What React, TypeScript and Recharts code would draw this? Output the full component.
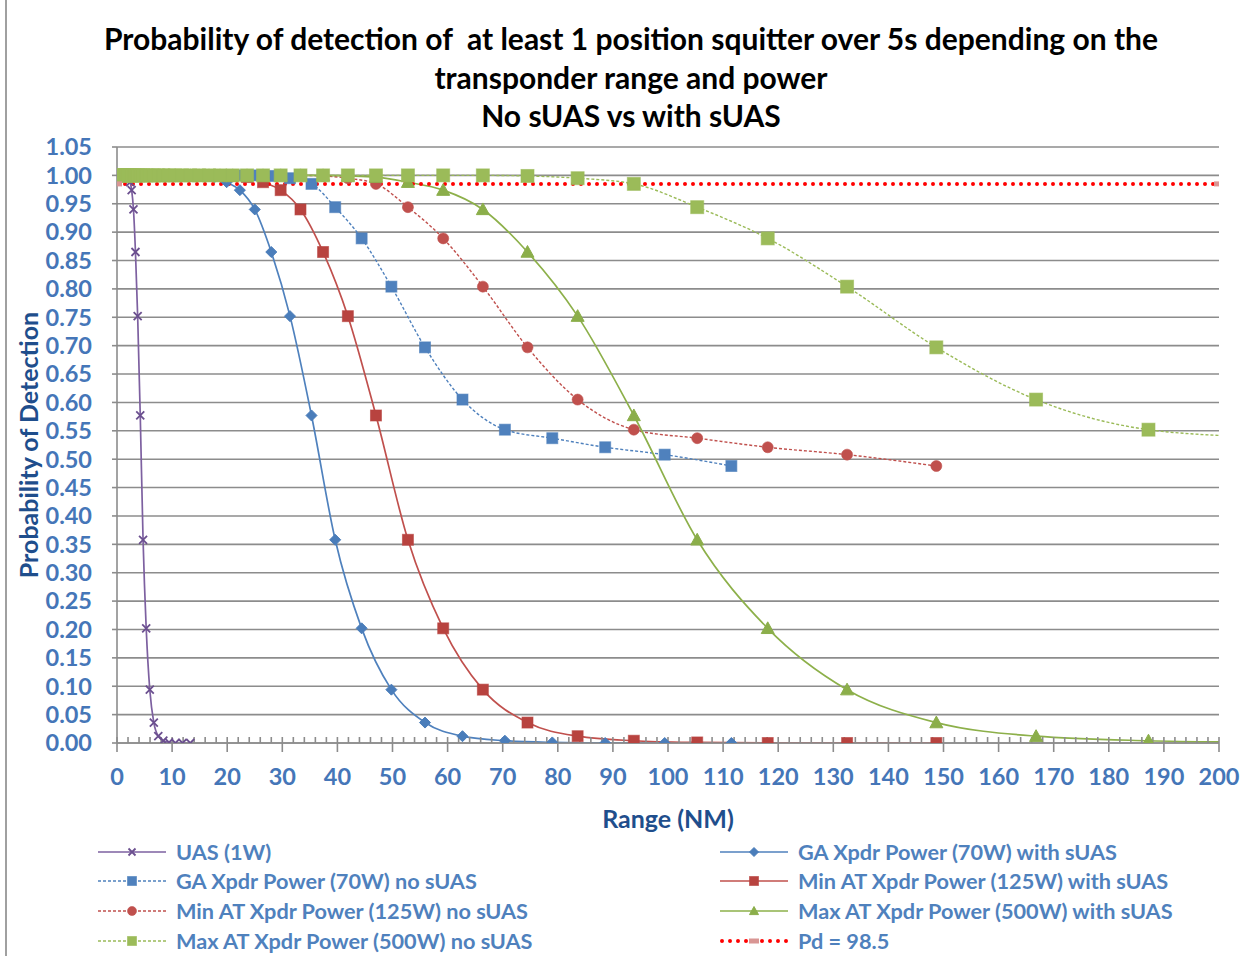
import React from 'react';
import { LineChart, Line, XAxis, YAxis, CartesianGrid } from 'recharts';

// x ticks (range, NM) and y ticks (probability)
const X_TICKS = [0, 10, 20, 30, 40, 50, 60, 70, 80, 90, 100, 110, 120, 130, 140, 150, 160, 170, 180, 190, 200];
const MINOR_TICKS = Array.from({ length: 101 }, (_, i) => i * 2);
const Y_TICKS = [0, 0.05, 0.1, 0.15, 0.2, 0.25, 0.3, 0.35, 0.4, 0.45, 0.5, 0.55, 0.6, 0.65, 0.7, 0.75, 0.8, 0.85, 0.9, 0.95, 1.0, 1.05];

// UAS (1W)
const uasRange = [0.54, 0.6, 0.67, 0.75, 0.85, 0.94, 1.06, 1.19, 1.34, 1.51, 1.68, 1.89, 2.11, 2.38, 2.66, 2.99, 3.35, 3.75, 4.22, 4.73, 5.3, 5.95, 6.68, 7.49, 8.41, 9.44, 10.6, 11.9, 13.3];
const uasPd = [1, 1, 1, 1, 1, 1, 1, 1, 1, 1, 1, 0.999, 0.997, 0.988, 0.974, 0.94, 0.865, 0.752, 0.577, 0.358, 0.202, 0.094, 0.036, 0.012, 0.004, 0.001, 0, 0, 0];

// GA transponder (70W)
const gaRange = [4.5, 5.0, 5.6, 6.3, 7.1, 7.9, 8.9, 10.0, 11.2, 12.6, 14.1, 15.8, 17.7, 19.9, 22.3, 25.0, 28.0, 31.4, 35.3, 39.6, 44.4, 49.8, 55.9, 62.7, 70.4, 79.0, 88.6, 99.4, 111.5];
const gaWithSuas = [1, 1, 1, 1, 1, 1, 1, 1, 1, 1, 1, 0.999, 0.997, 0.988, 0.974, 0.94, 0.865, 0.752, 0.577, 0.358, 0.202, 0.094, 0.036, 0.012, 0.004, 0.001, 0, 0, 0];
const gaNoSuas = [1, 1, 1, 1, 1, 1, 1, 1, 1, 1, 1, 1, 1, 1, 1, 1, 0.999, 0.995, 0.985, 0.944, 0.889, 0.804, 0.697, 0.605, 0.552, 0.537, 0.521, 0.508, 0.488];

// Min AT transponder (125W)
const minAtRange = [5.9, 6.7, 7.5, 8.4, 9.4, 10.5, 11.8, 13.3, 14.9, 16.7, 18.7, 21.0, 23.6, 26.5, 29.7, 33.3, 37.4, 41.9, 47.0, 52.8, 59.2, 66.4, 74.5, 83.6, 93.8, 105.3, 118.1, 132.5, 148.7];
const minAtWithSuas = [1, 1, 1, 1, 1, 1, 1, 1, 1, 1, 1, 0.999, 0.997, 0.988, 0.974, 0.94, 0.865, 0.752, 0.577, 0.358, 0.202, 0.094, 0.036, 0.012, 0.004, 0.001, 0, 0, 0];
const minAtNoSuas = [1, 1, 1, 1, 1, 1, 1, 1, 1, 1, 1, 1, 1, 1, 1, 1, 0.999, 0.995, 0.985, 0.944, 0.889, 0.804, 0.697, 0.605, 0.552, 0.537, 0.521, 0.508, 0.488];

// Max AT transponder (500W)
const maxAtRange = [0.8, 0.9, 1.1, 1.2, 1.3, 1.5, 1.7, 1.9, 2.1, 2.4, 2.7, 3.0, 3.3, 3.8, 4.2, 4.7, 5.3, 5.9, 6.7, 7.5, 8.4, 9.4, 10.5, 11.8, 13.3, 14.9, 16.7, 18.7, 21.0, 23.6, 26.5, 29.7, 33.3, 37.4, 41.9, 47.0, 52.8, 59.2, 66.4, 74.5, 83.6, 93.8, 105.3, 118.1, 132.5, 148.7, 166.8, 187.2, 210.0, 235.6];
const maxAtWithSuas = [1, 1, 1, 1, 1, 1, 1, 1, 1, 1, 1, 1, 1, 1, 1, 1, 1, 1, 1, 1, 1, 1, 1, 1, 1, 1, 1, 1, 1, 1, 1, 1, 1, 1, 0.999, 0.997, 0.988, 0.974, 0.94, 0.865, 0.752, 0.577, 0.358, 0.202, 0.094, 0.036, 0.012, 0.004, 0.001, 0];
const maxAtNoSuas = [1, 1, 1, 1, 1, 1, 1, 1, 1, 1, 1, 1, 1, 1, 1, 1, 1, 1, 1, 1, 1, 1, 1, 1, 1, 1, 1, 1, 1, 1, 1, 1, 1, 1, 1, 1, 1, 1, 1, 0.999, 0.995, 0.985, 0.944, 0.889, 0.804, 0.697, 0.605, 0.552, 0.537, 0.521];

// Pd = 98.5 threshold
const pdRange = [0, 200];
const pdLevel = [0.985, 0.985];

const FONT = 'Lato, "Open Sans", sans-serif';
const TICK_BLUE = '#4576b8';
const TITLE_BLUE = '#1f4e8c';
const GRID = '#8c8c8c';

const PURPLE = '#7d60a0';
const BLUE = '#4f81bd';
const RED = '#c0504d';
const GREEN = '#9bbb59';

const pairs = (xs: number[], ys: number[]) => xs.map((x, i) => ({ x, y: ys[i] }));

type Shape = 'cross' | 'diamond' | 'square' | 'circle' | 'triangle' | 'dash';

const Marker = ({ shape, cx, cy, size, color }: { shape: Shape; cx: number; cy: number; size: number; color: string }) => {
  const h = size / 2;
  if (shape === 'cross')
    return (
      <path d={`M${cx - h},${cy - h}L${cx + h},${cy + h}M${cx - h},${cy + h}L${cx + h},${cy - h}`} stroke={color} strokeWidth={1.8} fill="none" />
    );
  if (shape === 'diamond')
    return <path d={`M${cx},${cy - h}L${cx + h},${cy}L${cx},${cy + h}L${cx - h},${cy}Z`} fill={color} stroke={color} strokeWidth={1} />;
  if (shape === 'square')
    return <rect x={cx - h} y={cy - h} width={size} height={size} fill={color} stroke={color} strokeOpacity={0.6} strokeWidth={1} />;
  if (shape === 'circle') return <circle cx={cx} cy={cy} r={h} fill={color} stroke={color} strokeOpacity={0.6} />;
  if (shape === 'triangle')
    return <path d={`M${cx},${cy - h}L${cx + h},${cy + h * 0.8}L${cx - h},${cy + h * 0.8}Z`} fill={color} stroke={color} strokeWidth={1} />;
  return <rect x={cx - 5} y={cy - 2.5} width={10} height={5} fill="#d99694" />;
};

const dotFor = (shape: Shape, size: number, color: string) => (p: any) => {
  if (p.cx == null || p.cy == null) return <g key={p.index} />;
  return <Marker key={p.index} shape={shape} cx={p.cx} cy={p.cy} size={size} color={color} />;
};

interface SeriesDef {
  name: string;
  data: { x: number; y: number }[];
  color: string;
  markerColor: string;
  shape: Shape;
  size: number;
  dash?: string;
  width: number;
}

const SERIES: SeriesDef[] = [
  { name: 'UAS (1W)', data: pairs(uasRange, uasPd), color: PURPLE, markerColor: '#6b4f8f', shape: 'cross', size: 8, width: 1.7 },
  { name: 'GA Xpdr Power (70W) with sUAS', data: pairs(gaRange, gaWithSuas), color: BLUE, markerColor: '#4a7dba', shape: 'diamond', size: 11, width: 1.7 },
  { name: 'GA Xpdr Power (70W) no sUAS', data: pairs(gaRange, gaNoSuas), color: BLUE, markerColor: '#4f81bd', shape: 'square', size: 11, dash: '3 2', width: 1.4 },
  { name: 'Min AT Xpdr Power (125W) with sUAS', data: pairs(minAtRange, minAtWithSuas), color: RED, markerColor: '#b8433f', shape: 'square', size: 11, width: 1.7 },
  { name: 'Min AT Xpdr Power (125W) no sUAS', data: pairs(minAtRange, minAtNoSuas), color: RED, markerColor: '#c0504d', shape: 'circle', size: 11, dash: '3 2', width: 1.4 },
  { name: 'Max AT Xpdr Power (500W) with sUAS', data: pairs(maxAtRange, maxAtWithSuas), color: '#8db04a', markerColor: '#8bae4a', shape: 'triangle', size: 13, width: 1.7 },
  { name: 'Max AT Xpdr Power (500W) no sUAS', data: pairs(maxAtRange, maxAtNoSuas), color: GREEN, markerColor: '#9bbb59', shape: 'square', size: 13, dash: '3 2', width: 1.4 },
];

const LEGEND_LEFT = [0, 2, 4, 6];
const LEGEND_RIGHT = [1, 3, 5];

const LegendIcon = ({ s }: { s: SeriesDef }) => (
  <svg width={70} height={16} style={{ display: 'block' }}>
    <line x1={0} y1={8} x2={68} y2={8} stroke={s.color} strokeWidth={s.width} strokeDasharray={s.dash} />
    <Marker shape={s.shape} cx={34} cy={8} size={s.shape === 'cross' ? 7 : 9} color={s.markerColor} />
  </svg>
);

const legendText: React.CSSProperties = {
  fontFamily: FONT,
  fontWeight: 700,
  fontSize: 21.7,
  color: '#4f81bd',
  whiteSpace: 'nowrap',
  lineHeight: '30px',
};

const LegendRow = ({ icon, label, left, top }: { icon: React.ReactNode; label: string; left: number; top: number }) => (
  <div style={{ position: 'absolute', left, top: top - 15, height: 30, display: 'flex', alignItems: 'center' }}>
    {icon}
    <span style={{ ...legendText, marginLeft: 8 }}>{label}</span>
  </div>
);

const ROW_Y = [852, 881, 911, 941];

export default function App() {
  return (
    <div style={{ position: 'absolute', left: 0, top: 0, width: 1252, height: 956, background: '#fff', overflow: 'hidden' }}>
      <div style={{ position: 'absolute', left: 5, top: 0, width: 2, height: 956, background: '#a0a0a0' }} />
      <div
        style={{
          position: 'absolute',
          left: 0,
          top: 19,
          width: 1262,
          textAlign: 'center',
          fontFamily: FONT,
          fontWeight: 700,
          fontSize: 30,
          lineHeight: '38.5px',
          color: '#000',
          whiteSpace: 'pre',
        }}
      >
        <div>{'Probability of detection of  at least 1 position squitter over 5s depending on the'}</div>
        <div>transponder range and power</div>
        <div>No sUAS vs with sUAS</div>
      </div>

      <div style={{ position: 'absolute', left: 0, top: 0 }}>
        <LineChart width={1252} height={956} margin={{ top: 147, right: 33, left: 0, bottom: 173 }}>
          <CartesianGrid vertical={false} stroke={GRID} strokeWidth={1.6} />
          <XAxis
            type="number"
            dataKey="x"
            domain={[0, 200]}
            allowDataOverflow
            ticks={X_TICKS}
            interval={0}
            height={40}
            tickSize={9}
            tickMargin={16}
            axisLine={{ stroke: GRID, strokeWidth: 1.6 }}
            tickLine={{ stroke: GRID, strokeWidth: 1.6 }}
            tick={{ fill: TICK_BLUE, fontSize: 23.5, fontWeight: 700, fontFamily: FONT }}
          />
          <XAxis
            xAxisId="minor"
            type="number"
            dataKey="x"
            domain={[0, 200]}
            allowDataOverflow
            ticks={MINOR_TICKS}
            interval={0}
            mirror
            height={1}
            tickSize={6}
            axisLine={false}
            tickLine={{ stroke: GRID, strokeWidth: 1.6 }}
            tickFormatter={() => ''}
          />
          <YAxis
            type="number"
            domain={[0, 1.05]}
            ticks={Y_TICKS}
            interval={0}
            width={117}
            tickSize={5}
            tickMargin={20}
            allowDataOverflow
            tickFormatter={(v: number) => v.toFixed(2)}
            axisLine={{ stroke: GRID, strokeWidth: 1.6 }}
            tickLine={{ stroke: GRID, strokeWidth: 1.6 }}
            tick={{ fill: TICK_BLUE, fontSize: 23.5, fontWeight: 700, fontFamily: FONT }}
          />
          {SERIES.map((s) => (
            <Line
              key={s.name}
              name={s.name}
              data={s.data}
              dataKey="y"
              type="monotone"
              stroke={s.color}
              strokeWidth={s.width}
              strokeDasharray={s.dash}
              dot={dotFor(s.shape, s.size, s.markerColor)}
              activeDot={false}
              isAnimationActive={false}
            />
          ))}
          <Line
            name="Pd = 98.5"
            data={pairs(pdRange, pdLevel)}
            dataKey="y"
            type="linear"
            stroke="#ff0000"
            strokeWidth={4}
            strokeDasharray="0 8"
            strokeLinecap="round"
            dot={dotFor('dash', 10, '#d99694')}
            activeDot={false}
            isAnimationActive={false}
          />
        </LineChart>
      </div>

      <div
        style={{
          position: 'absolute',
          left: 28,
          top: 445,
          transform: 'translate(-50%, -50%) rotate(-90deg)',
          transformOrigin: 'center',
          fontFamily: FONT,
          fontWeight: 700,
          fontSize: 25,
          color: TITLE_BLUE,
          whiteSpace: 'nowrap',
        }}
      >
        Probability of Detection
      </div>
      <div
        style={{
          position: 'absolute',
          left: 0,
          top: 803,
          width: 1336,
          textAlign: 'center',
          fontFamily: FONT,
          fontWeight: 700,
          fontSize: 25,
          color: TITLE_BLUE,
        }}
      >
        Range (NM)
      </div>

      {LEGEND_LEFT.map((idx, r) => (
        <LegendRow key={SERIES[idx].name} icon={<LegendIcon s={SERIES[idx]} />} label={SERIES[idx].name} left={98} top={ROW_Y[r]} />
      ))}
      {LEGEND_RIGHT.map((idx, r) => (
        <LegendRow key={SERIES[idx].name} icon={<LegendIcon s={SERIES[idx]} />} label={SERIES[idx].name} left={720} top={ROW_Y[r]} />
      ))}
      <LegendRow
        icon={
          <svg width={70} height={16} style={{ display: 'block' }}>
            <line x1={2} y1={8} x2={68} y2={8} stroke="#ff0000" strokeWidth={4} strokeDasharray="0 8" strokeLinecap="round" />
            <rect x={29} y={5.5} width={10} height={5} fill="#d99694" />
          </svg>
        }
        label="Pd = 98.5"
        left={720}
        top={ROW_Y[3]}
      />
    </div>
  );
}
